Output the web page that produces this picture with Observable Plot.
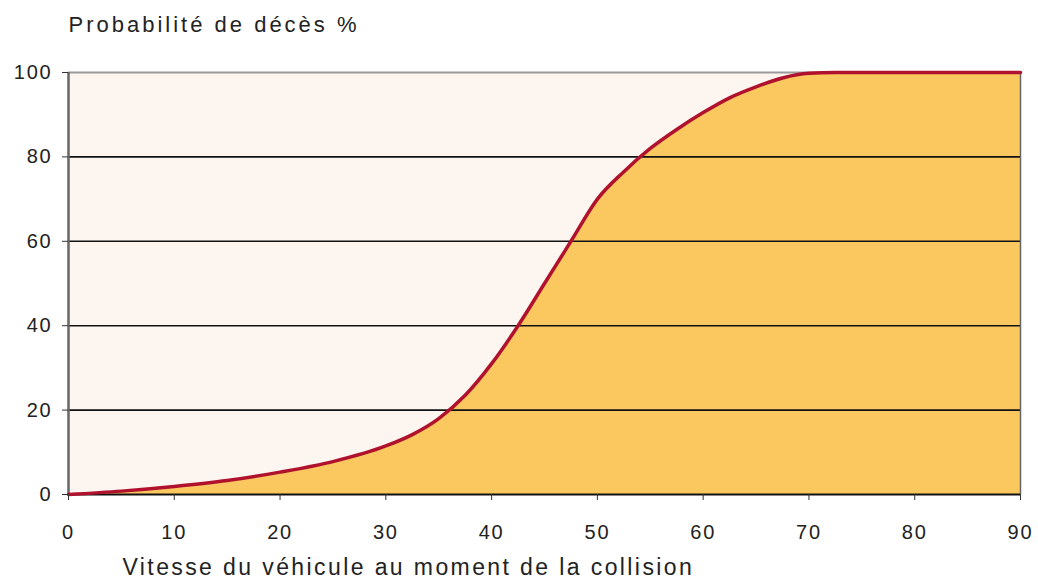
<!DOCTYPE html>
<html>
<head>
<meta charset="utf-8">
<script src="https://cdn.jsdelivr.net/npm/d3@7"></script>
<script src="https://cdn.jsdelivr.net/npm/@observablehq/plot@0.6"></script>
<style>
  html, body { margin: 0; padding: 0; background: #fff; }
  #chart svg { display: block; }
</style>
</head>
<body>
<div id="chart"></div>
<script>
const speeds = [0, 5, 10, 15, 20, 25, 30, 32.5, 35, 37.5, 40, 42.5, 45, 47.5, 50, 52.5, 55, 57.5, 60, 62.5, 65, 67.5, 70, 72.5, 75, 80, 90];
const probabilities = [0, 0.8, 1.9, 3.3, 5.3, 7.8, 11.5, 14.2, 18, 23.5, 31, 40, 50, 60, 70, 76.5, 82, 86.5, 90.5, 94, 96.6, 98.7, 99.8, 100, 100, 100, 100];
const xTicks = [0, 10, 20, 30, 40, 50, 60, 70, 80, 90];
const yTicks = [0, 20, 40, 60, 80, 100];
const gridValues = [20, 40, 60, 80];
const yTitle = "Probabilité de décès %";
const xTitle = "Vitesse du véhicule au moment de la collision";

const data = speeds.map((s, i) => ({speed: s, p: probabilities[i]}));
const font = "'Liberation Sans', Arial, sans-serif";

const chart = Plot.plot({
  width: 1038,
  height: 588,
  marginTop: 72,
  marginLeft: 68,
  marginRight: 18,
  marginBottom: 94,
  style: {fontFamily: font, fontSize: "20px", color: "#222", background: "#fff"},
  x: {domain: [0, 90]},
  y: {domain: [0, 100]},
  marks: [
    Plot.frame({fill: "#fdf6f0", stroke: null}),
    Plot.areaY(data, {x: "speed", y: "p", fill: "#fbc860", curve: "monotone-x"}),
    Plot.ruleY(gridValues, {stroke: "#111", strokeWidth: 1.6}),
    Plot.ruleY([100], {stroke: "#9a9a9a", strokeWidth: 2}),
    Plot.ruleX([90], {stroke: "#666", strokeWidth: 1.5}),
    Plot.ruleX([0], {stroke: "#666", strokeWidth: 2.5}),
    Plot.ruleY([0], {stroke: "#111", strokeWidth: 2}),
    Plot.lineY(data, {x: "speed", y: "p", stroke: "#b0122e", strokeWidth: 3.5, curve: "monotone-x"}),
    Plot.axisX({ticks: xTicks, tickSize: 6, tickPadding: 24, label: null, fontSize: 20, stroke: "#333"}),
    Plot.axisY({ticks: yTicks, tickSize: 6, tickPadding: 10, label: null, fontSize: 20, stroke: "#333"}),
    Plot.text([yTitle], {frameAnchor: "top-left", dx: 0, dy: -56, textAnchor: "start", fontSize: 22, fill: "#222"}),
    Plot.text([xTitle], {frameAnchor: "bottom-left", dx: 54, dy: 80, textAnchor: "start", fontSize: 23, fill: "#222"})
  ]
});
const svg = d3.select(chart);
svg.selectAll("g[aria-label='x-axis tick label'] text, g[aria-label='y-axis tick label'] text").attr("letter-spacing", "1.8px");
svg.selectAll("text").filter(function() { return this.textContent === yTitle; }).attr("letter-spacing", "3px");
svg.selectAll("text").filter(function() { return this.textContent === xTitle; }).attr("letter-spacing", "2.4px");
document.getElementById("chart").appendChild(chart);
</script>
</body>
</html>
